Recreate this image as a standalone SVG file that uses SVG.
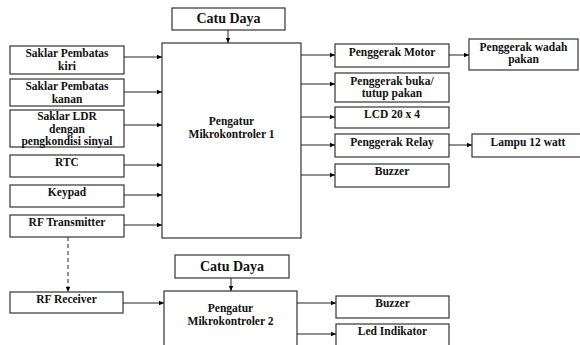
<svg xmlns="http://www.w3.org/2000/svg" width="580" height="345" viewBox="0 0 580 345">
<defs>
<marker id="ah" markerWidth="6" markerHeight="6" refX="5" refY="3" orient="auto" markerUnits="userSpaceOnUse">
<path d="M0,0.8 L5,3 L0,5.2 Z" fill="#000"/>
</marker>
<style>
.c{font-size:14px}
.b{fill:#fff;stroke:#333;stroke-width:1.2}
.a{stroke:#222;stroke-width:1;fill:none;marker-end:url(#ah)}
.d{stroke:#555;stroke-width:1.3;fill:none;stroke-dasharray:4,3;marker-end:url(#ah)}
</style>
</defs>
<rect width="580" height="345" fill="#fff"/>
<g font-family="Liberation Serif, Times New Roman, serif" font-weight="bold" font-size="11.5" fill="#111" text-anchor="middle">
<g id="catu1"><rect class="b" x="172" y="8" width="113" height="22"/><text class="c" x="228.5" y="23">Catu Daya</text></g>
<g id="mcu1"><rect class="b" x="162" y="43" width="139" height="195"/><text x="231.5" y="125">Pengatur</text><text x="231.5" y="138">Mikrokontroler 1</text></g>

<g id="kiri"><rect class="b" x="10" y="46" width="114" height="28"/><text x="67" y="57">Saklar Pembatas</text><text x="67" y="69.5">kiri</text></g>
<g id="kanan"><rect class="b" x="10" y="79" width="114" height="27"/><text x="67" y="90">Saklar Pembatas</text><text x="67" y="102.5">kanan</text></g>
<g id="ldr"><rect class="b" x="10" y="110" width="114" height="37"/><text x="67" y="120">Saklar LDR</text><text x="67" y="132.5">dengan</text><text x="67" y="145">pengkondisi sinyal</text></g>
<g id="rtc"><rect class="b" x="10" y="155" width="114" height="22"/><text x="67" y="166">RTC</text></g>
<g id="keypad"><rect class="b" x="10" y="185" width="114" height="22"/><text x="67" y="196">Keypad</text></g>
<g id="rftx"><rect class="b" x="10" y="215" width="114" height="22"/><text x="67" y="226">RF Transmitter</text></g>

<g id="motor"><rect class="b" x="335" y="44" width="114" height="23"/><text x="392" y="56">Penggerak Motor</text></g>
<g id="buka"><rect class="b" x="335" y="73" width="114" height="29"/><text x="392" y="84.5">Penggerak buka/</text><text x="392" y="97">tutup pakan</text></g>
<g id="lcd"><rect class="b" x="335" y="107" width="114" height="21"/><text x="392" y="118">LCD 20 x 4</text></g>
<g id="relay"><rect class="b" x="335" y="134" width="114" height="23"/><text x="392" y="146">Penggerak Relay</text></g>
<g id="buzzer1"><rect class="b" x="335" y="164" width="114" height="23"/><text x="392" y="175">Buzzer</text></g>
<g id="wadah"><rect class="b" x="469" y="39" width="109" height="31"/><text x="523.5" y="50.5">Penggerak wadah</text><text x="523.5" y="63">pakan</text></g>
<g id="lampu"><rect class="b" x="472" y="134" width="110" height="23"/><text x="528" y="146">Lampu 12 watt</text></g>

<g id="rfrx"><rect class="b" x="10" y="292" width="113" height="21"/><text x="66.5" y="303">RF Receiver</text></g>
<g id="catu2"><rect class="b" x="175" y="255" width="114" height="23"/><text class="c" x="232" y="271">Catu Daya</text></g>
<g id="mcu2"><rect class="b" x="164" y="291" width="133" height="60"/><text x="230.5" y="312">Pengatur</text><text x="230.5" y="325">Mikrokontroler 2</text></g>
<g id="buzzer2"><rect class="b" x="336" y="296" width="113" height="22"/><text x="392.5" y="307">Buzzer</text></g>
<g id="led"><rect class="b" x="336" y="324" width="113" height="30"/><text x="392.5" y="335">Led Indikator</text></g>
</g>
<g id="connectors">
<path class="a" d="M228,30 V43"/>
<path class="a" d="M124,57 H162"/>
<path class="a" d="M124,92 H162"/>
<path class="a" d="M124,125 H162"/>
<path class="a" d="M124,165 H162"/>
<path class="a" d="M124,195 H162"/>
<path class="a" d="M124,225 H162"/>
<path class="a" d="M301,55 H335"/>
<path class="a" d="M301,84 H335"/>
<path class="a" d="M301,117 H335"/>
<path class="a" d="M301,145 H335"/>
<path class="a" d="M301,175 H335"/>
<path class="a" d="M449,55 H469"/>
<path class="a" d="M449,145 H472"/>
<path class="d" d="M68,237 V292"/>
<path class="a" d="M123,303 H164"/>
<path class="a" d="M231,278 V291"/>
<path class="a" d="M297,303 H336"/>
<path class="a" d="M297,334 H336"/>
</g>
</svg>
